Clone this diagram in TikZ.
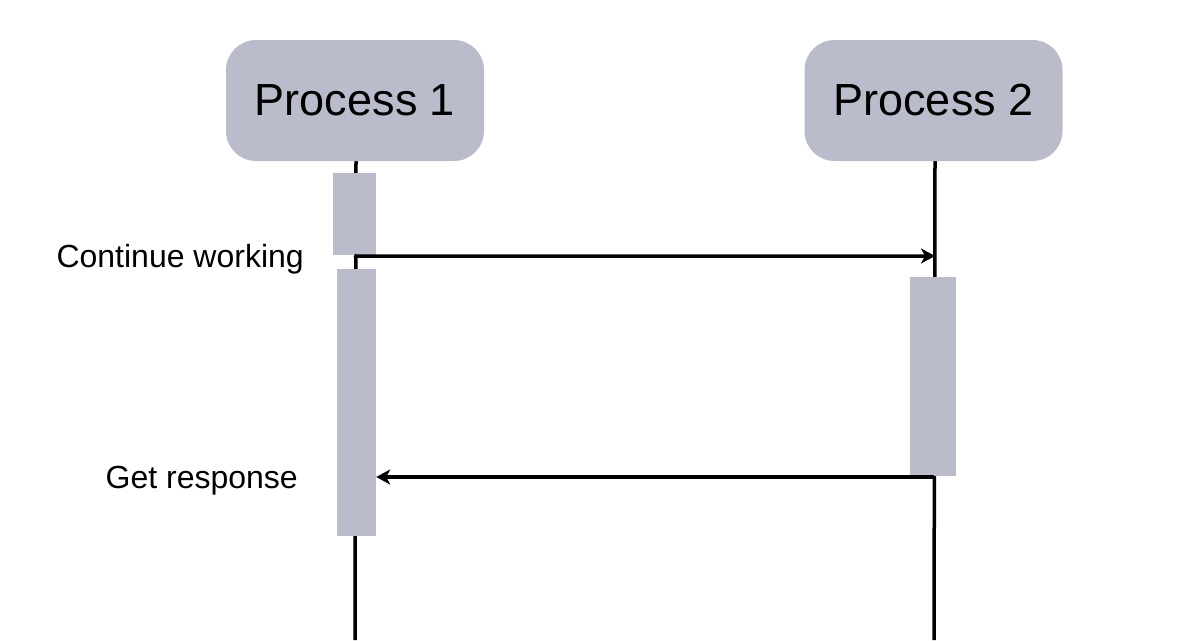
\documentclass[tikz,border=0pt]{standalone}
\usepackage{fontspec}
\setmainfont{Liberation Sans}
\usetikzlibrary{arrows.meta}
\definecolor{boxgray}{HTML}{BBBCCB}
\begin{document}
\begin{tikzpicture}[x=1pt,y=-1pt,
  proc/.style={fill=boxgray,draw=none,rounded corners=30pt,minimum width=258pt,minimum height=121pt,inner sep=0pt,font=\fontsize{45}{50}\selectfont},
  act/.style={fill=boxgray,draw=none,inner sep=0pt},
  life/.style={line width=3.5pt,black},
  msg/.style={line width=3.5pt,black,-{Stealth[length=14pt,width=15pt,inset=4pt]}},
  lbl/.style={font=\fontsize{32}{36}\selectfont,inner sep=0pt,anchor=base east}]
\useasboundingbox (0,0) rectangle (1198,640);
% lifelines
\coordinate (l1top) at (356,161);
\coordinate (l1bot) at (355,640);
\coordinate (l2top) at (935,161);
\coordinate (l2bot) at (934,640);
\draw[life] (l1top) -- (l1bot);
\draw[life] (l2top) -- (l2bot);
% headers
\node[proc] (p1) at (355,100.5) {Process 1};
\node[proc] (p2) at (933.5,100.5) {Process 2};
% activation boxes
\node[act,minimum width=43pt,minimum height=82pt] (a1) at (354.5,214) {};
\node[act,minimum width=39pt,minimum height=267pt] (a2) at (356.5,402.5) {};
\node[act,minimum width=46pt,minimum height=199pt] (a3) at (933,376.5) {};
% messages
\coordinate (m1s) at (356,256);
\coordinate (m1e) at (935,256);
\draw[msg] ([xshift=-1.5pt]m1s |- a1.south) -- (m1s) -- (m1e);
\coordinate (m2s) at (934,477);
\coordinate (m2e) at (a2.east |- m2s);
\draw[msg] (a3.south -| m2s) -- (m2s) -- (m2e);
% labels
\node[lbl] (t1) at (304,267.5) {Continue working};
\node[lbl] (t2) at (298,488.5) {Get response};
\end{tikzpicture}
\end{document}
